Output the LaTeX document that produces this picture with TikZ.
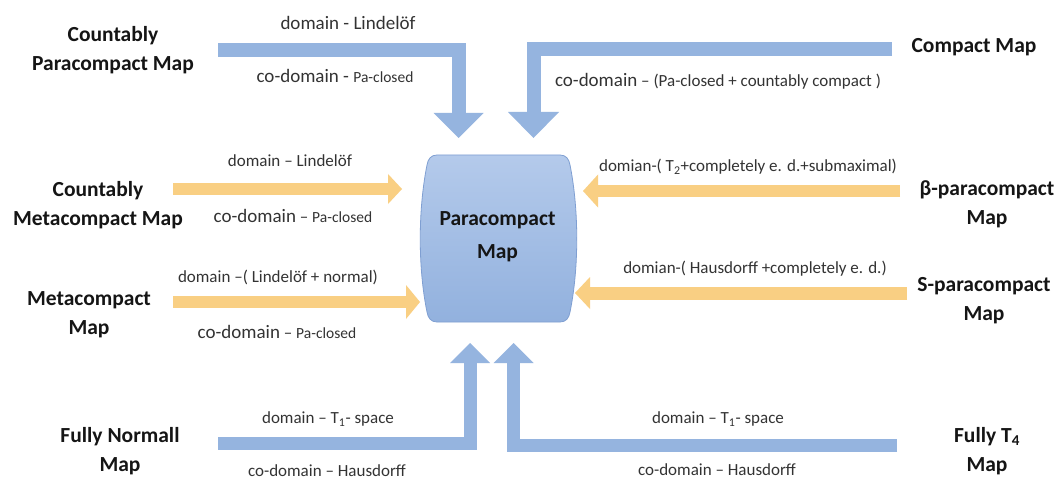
\documentclass[tikz,border=0pt]{standalone}
\usepackage{fontspec}
\setmainfont{Carlito}
\usetikzlibrary{arrows.meta,calc}
\definecolor{arrblue}{HTML}{95B4DF}
\definecolor{arrorange}{HTML}{F9CF83}
\definecolor{boxtop}{HTML}{B4CAEB}
\definecolor{boxbot}{HTML}{92B1DE}
\definecolor{boxline}{HTML}{7F9FD2}
\definecolor{txt}{HTML}{333333}
\definecolor{btxt}{HTML}{151515}
\tikzset{
  bigl/.style={font=\fontsize{21.5}{29}\selectfont\bfseries, text=btxt, align=center, inner sep=0pt},
  smalll/.style={font=\fontsize{17}{20}\selectfont, text=txt, inner sep=0pt},
  topl/.style={font=\fontsize{19}{22}\selectfont, text=txt, inner sep=0pt},
  bluearrow/.style={draw=arrblue, line join=miter, line cap=butt, line width=#1},
  orangearrow/.style={draw=arrorange, line cap=butt, line width=#1},
}
\newcommand{\cod}{{\fontsize{19}{22}\selectfont co-domain}}
\newcommand{\pac}{{\fontsize{15.5}{18}\selectfont Pa-closed}}
\begin{document}
\begin{tikzpicture}[x=1pt,y=-1pt]
\useasboundingbox (0,0) rectangle (1059,481);
\fill[white] (0,0) rectangle (1059,481);

% central node
\node[minimum width=155pt, minimum height=167pt, inner sep=0pt] (pm) at (497.5,238.5) {};
\draw[boxline, line width=0.8pt, top color=boxtop, bottom color=boxbot]
  (437,155) -- (560,155) .. controls (566,155) and (569,159) .. (570,165)
  .. controls (579,210) and (579,268) .. (570,312)
  .. controls (569,318) and (566,322) .. (560,322)
  -- (437,322) .. controls (431,322) and (428,318) .. (427,312)
  .. controls (418,268) and (418,210) .. (427,165)
  .. controls (428,159) and (431,155) .. (437,155) -- cycle;
\node[font=\fontsize{21.5}{33}\selectfont\bfseries, text=btxt, align=center] at ($(pm.center)+(0,-2)$) {Paracompact\\Map};

% side labels
\node[bigl] (cpm) at (113,50) {Countably\\Paracompact Map};
\node[bigl] (cmm) at (98,205) {Countably\\Metacompact Map};
\node[bigl] (mm) at (89,315) {Metacompact\\Map};
\node[bigl] (fnm) at (120,451) {Fully Normall\\Map};
\node[bigl] (cm) at (974,47) {Compact Map};
\node[bigl] (bpm) at (987,204) {β-paracompact\\Map};
\node[bigl] (spm) at (984,301) {S-paracompact\\Map};
\node[bigl] (ft4) at (987,451) {Fully T\textsubscript{4}\\Map};

% connector coordinates
\coordinate (a1s) at (218,50.5);  \coordinate (a1c) at (458.5,50.5);  \coordinate (a1e) at (458.5,138);
\coordinate (a2s) at (892,49.5);  \coordinate (a2c) at (533.5,49.5);  \coordinate (a2e) at (533.5,138);
\coordinate (a3s) at (218,443);   \coordinate (a3c) at (470,443);     \coordinate (a3e) at (470,343);
\coordinate (a4s) at (897,445);   \coordinate (a4c) at (513.5,445);   \coordinate (a4e) at (513.5,343);
\coordinate (o1s) at (173,189);   \coordinate (o1e) at (402,189);
\coordinate (o2s) at (173,302);   \coordinate (o2e) at (420,302);
\coordinate (o3s) at (900,191);   \coordinate (o3e) at (583,191);
\coordinate (o4s) at (907,293);   \coordinate (o4e) at (575,293);

% blue bent arrows
\draw[bluearrow=14pt, -{Triangle[width=50pt,length=25pt,line width'=0pt,fill=arrblue]}] (a1s) -- (a1c) -- (a1e);
\draw[bluearrow=14pt, -{Triangle[width=51pt,length=26pt,line width'=0pt,fill=arrblue]}] (a2s) -- (a2c) -- (a2e);
\draw[bluearrow=13pt, -{Triangle[width=40pt,length=20pt,line width'=0pt,fill=arrblue]}] (a3s) -- (a3c) -- (a3e);
\draw[bluearrow=13pt, -{Triangle[width=40pt,length=20pt,line width'=0pt,fill=arrblue]}] (a4s) -- (a4c) -- (a4e);

% orange arrows
\draw[orangearrow=12pt, -{Triangle[width=30pt,length=14pt,line width'=0pt,fill=arrorange]}] (o1s) -- (o1e);
\draw[orangearrow=12pt, -{Triangle[width=34pt,length=14pt,line width'=0pt,fill=arrorange]}] (o2s) -- (o2e);
\draw[orangearrow=12pt, -{Triangle[width=33pt,length=15pt,line width'=0pt,fill=arrorange]}] (o3s) -- (o3e);
\draw[orangearrow=13pt, -{Triangle[width=32pt,length=15pt,line width'=0pt,fill=arrorange]}] (o4s) -- (o4e);

% connector labels
\node[topl] (t1) at (348,23) {domain - Lindelöf};
\node[topl] (t2) at (335,76) {co-domain - \pac};
\node[smalll] (t3) at (718,81) {\cod{} – (Pa-closed + countably compact )};
\node[smalll] (l1) at (290,161) {domain – Lindelöf};
\node[smalll] (l2) at (293,216) {\cod{} – \pac};
\node[smalll] (l3) at (278,277) {domain –( Lindelöf + normal)};
\node[smalll] (l4) at (277,332) {\cod{} – \pac};
\node[smalll] (r1) at (748,167) {domian-( T\textsubscript{2}+completely e. d.+submaximal)};
\node[smalll] (r2) at (755,269) {domian-( Hausdorff +completely e. d.)};
\node[smalll] (b1) at (328,419) {domain – T\textsubscript{1}- space};
\node[smalll] (b2) at (327,471) {co-domain – Hausdorff};
\node[smalll] (b3) at (718,419) {domain – T\textsubscript{1}- space};
\node[smalll] (b4) at (717,470) {co-domain – Hausdorff};
\end{tikzpicture}
\end{document}
